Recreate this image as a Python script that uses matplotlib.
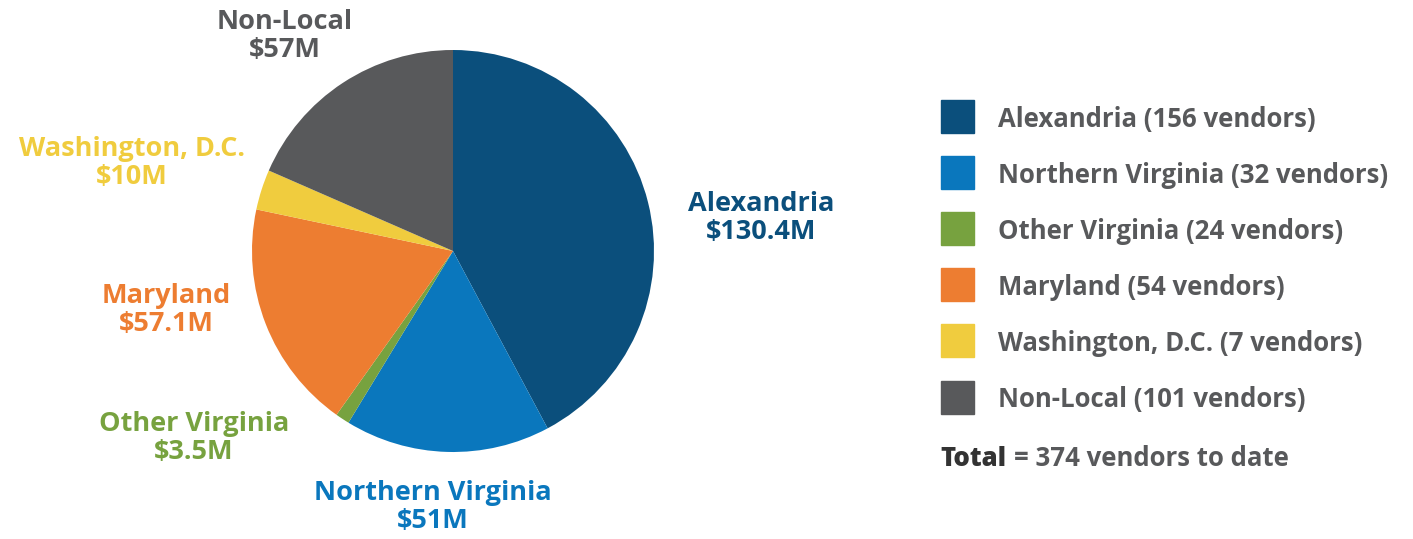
import matplotlib
matplotlib.use("Agg")
import matplotlib.pyplot as plt
from matplotlib.patches import Rectangle

regions = ["Alexandria", "Northern Virginia", "Other Virginia", "Maryland",
           "Washington, D.C.", "Non-Local"]
spend = [130.4, 51, 3.5, 57.1, 10, 57]
spend_labels = ["$130.4M", "$51M", "$3.5M", "$57.1M", "$10M", "$57M"]
vendors = [156, 32, 24, 54, 7, 101]
colors = ["#0b4f7c", "#0a77bd", "#77a23f", "#ed7d31", "#f0cc3e", "#58595b"]
GRAY = "#58595b"

plt.rcParams['font.family'] = ['Open Sans', 'DejaVu Sans']

W, H = 1413, 539
fig = plt.figure(figsize=(W / 100, H / 100), dpi=100)

# pie axes, centre ~ (453, 251) px, radius ~ 201 px
cx, cy, r = 453, 251, 201
ax = fig.add_axes([(cx - r) / W, (H - cy - r) / H, 2 * r / W, 2 * r / H])
ax.pie(spend, colors=colors, startangle=90, counterclock=False,
       wedgeprops=dict(linewidth=0))
ax.set_xlim(-1, 1)
ax.set_ylim(-1, 1)
ax.set_aspect('auto')
ax.axis('off')

# slice labels (pixel centres)
label_pos = [(761, 218), (433, 507), (194, 438), (166, 310), (132, 163), (285, 36)]
for name, val, col, (px, py) in zip(regions, spend_labels, colors, label_pos):
    fig.text(px / W, 1 - py / H, f"{name}\n{val}", ha='center', va='center',
             fontsize=19.5, fontweight='bold', color=col, linespacing=1.1)

# legend
sq = 33
for i, (name, n, col) in enumerate(zip(regions, vendors, colors)):
    yc = 116 + i * 56.2
    fig.patches.append(Rectangle((941 / W, 1 - (yc + sq / 2) / H), sq / W, sq / H,
                                 transform=fig.transFigure, color=col, figure=fig))
    fig.text(998 / W, 1 - (yc + 3) / H, f"{name} ({n} vendors)", ha='left', va='center',
             fontsize=18.5, fontweight='bold', color=GRAY)

t = fig.text(940 / W, 1 - 459 / H, "Total", ha='left', va='center',
             fontsize=18.5, fontweight='heavy', color='#333333')
fig.canvas.draw()
bb = t.get_window_extent()
fig.text((bb.x1 + 8) / W, 1 - 459 / H, "= 374 vendors to date", ha='left', va='center',
         fontsize=18.5, fontweight='bold', color=GRAY)

fig.savefig("out.png", dpi=100)
